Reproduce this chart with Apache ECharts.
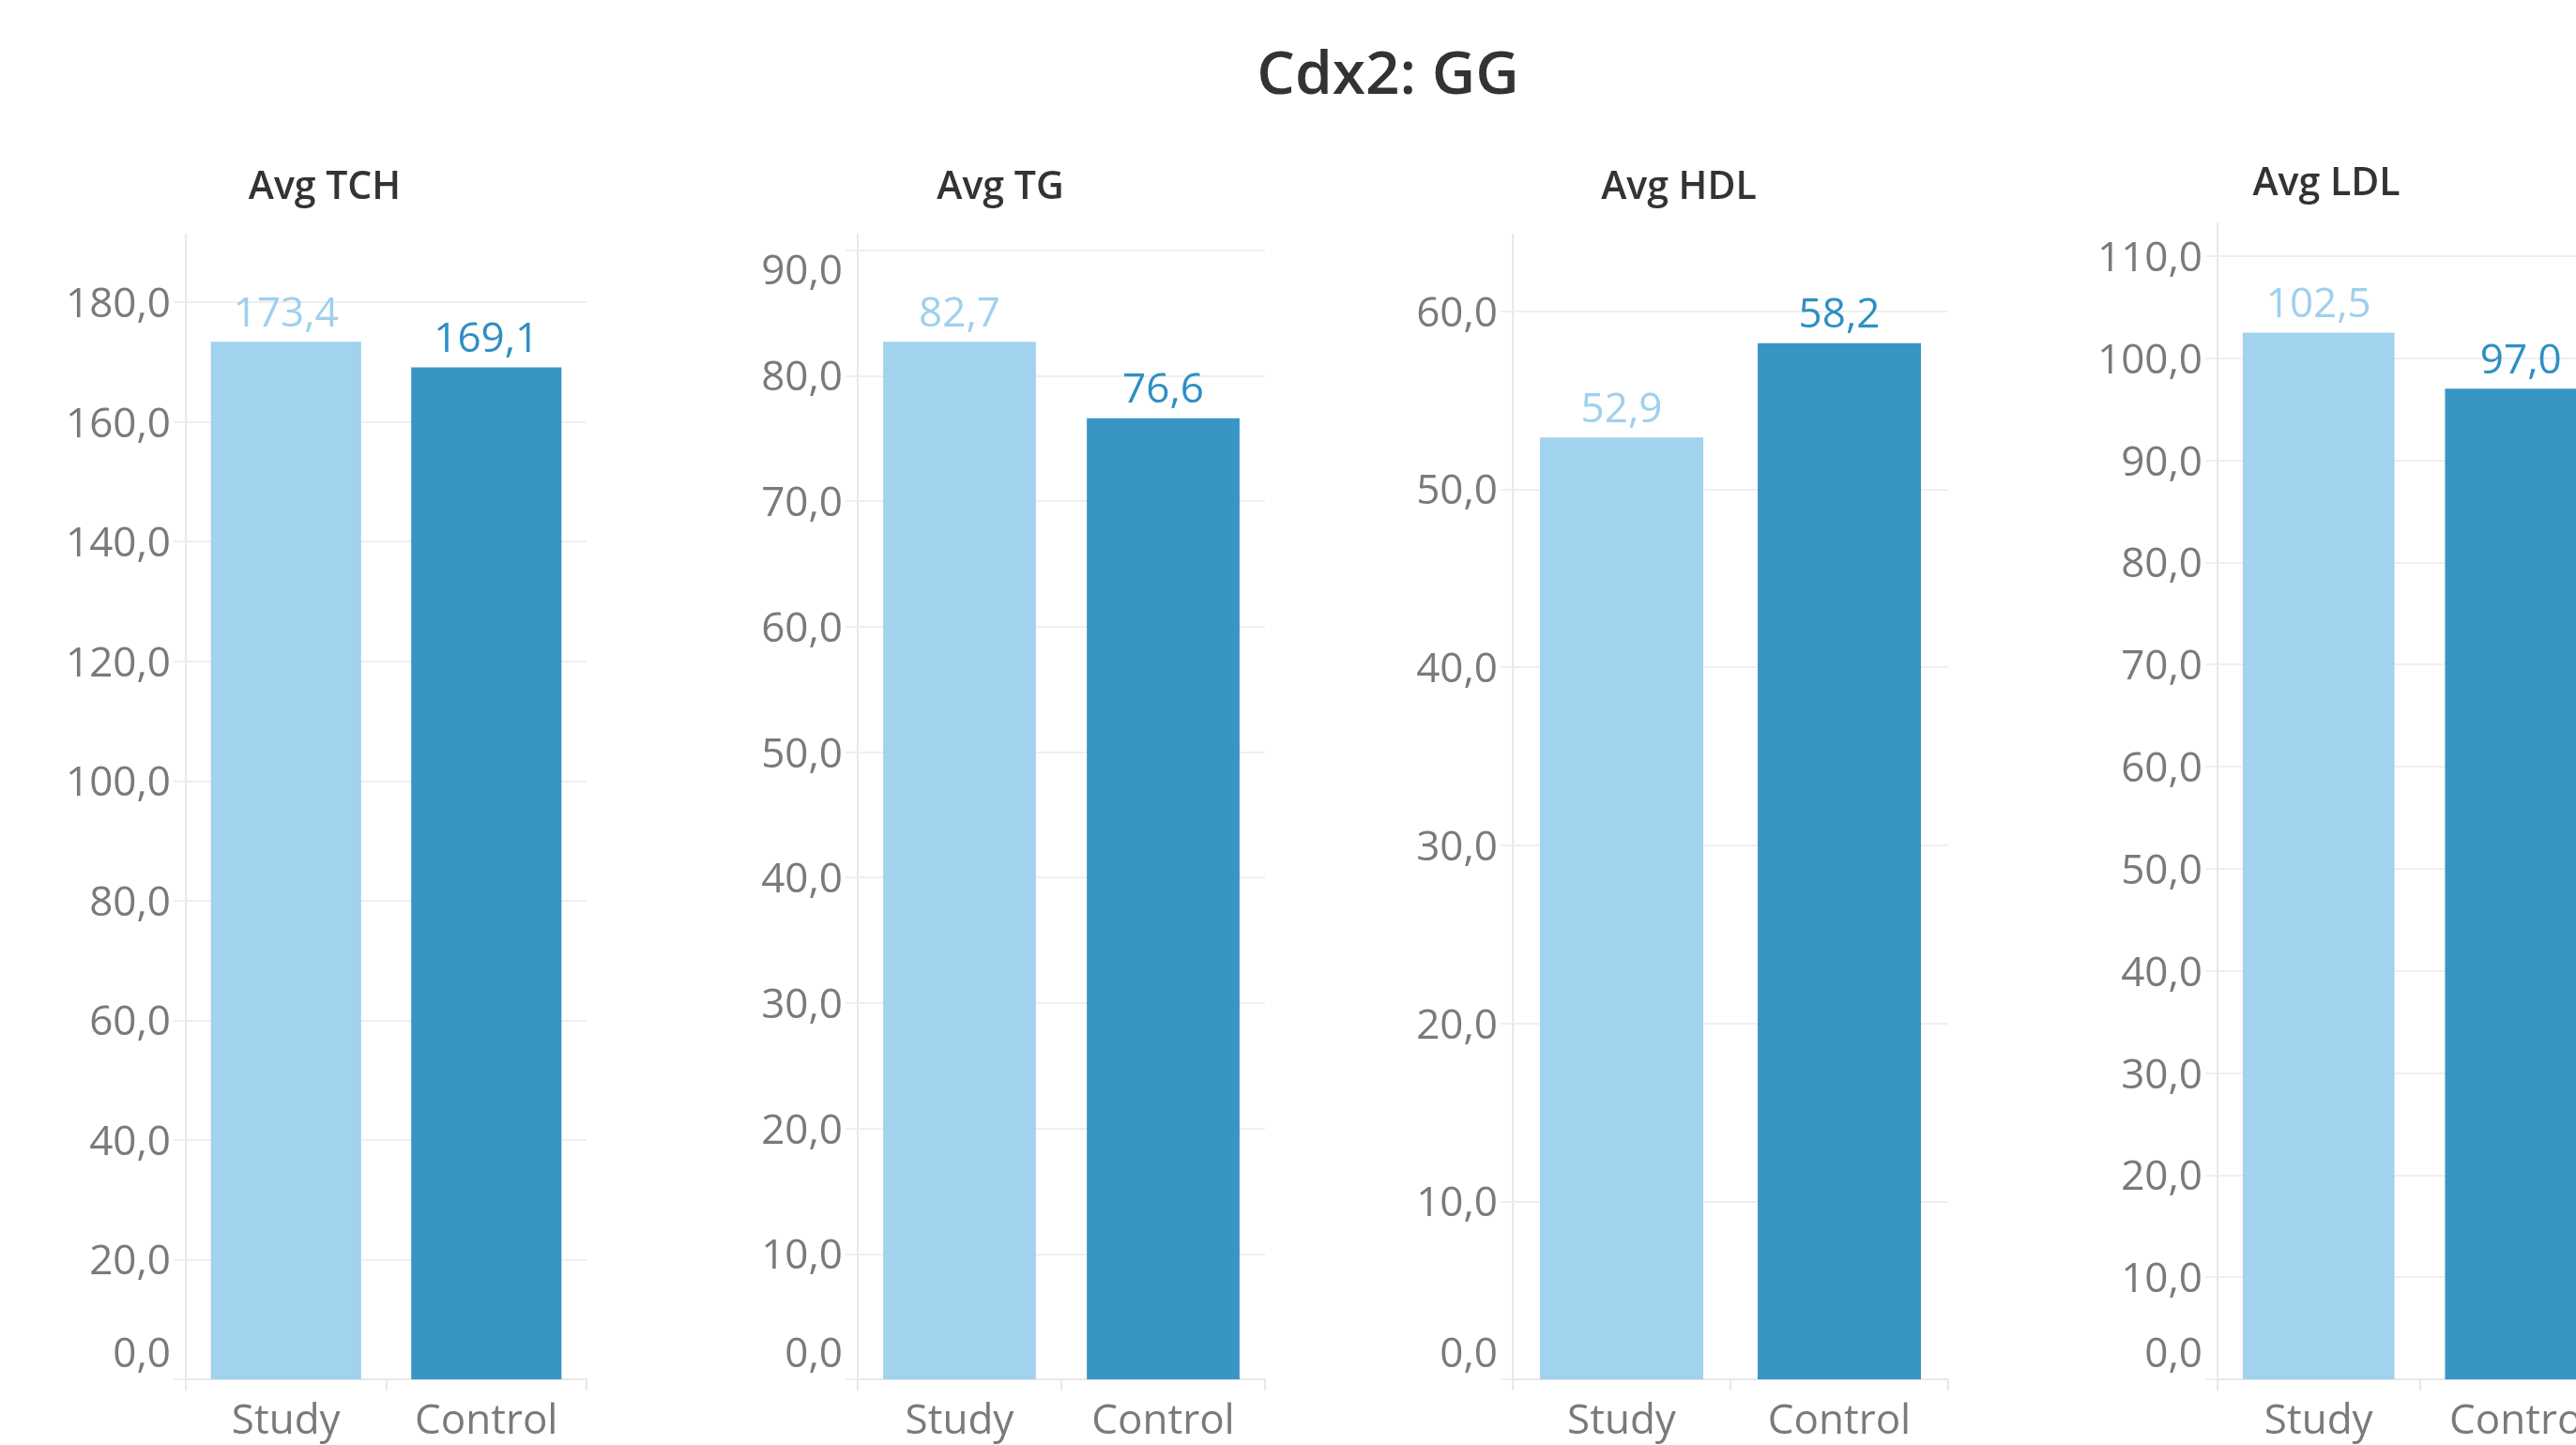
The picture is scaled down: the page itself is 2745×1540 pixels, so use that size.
<!DOCTYPE html>
<html>
<head>
<meta charset="utf-8">
<title>Cdx2: GG</title>
<script src="https://cdn.jsdelivr.net/npm/echarts@6/dist/echarts.min.js"></script>
<style>
  html, body { margin: 0; padding: 0; background: #ffffff; }
  #chart { width: 2745px; height: 1540px; }
</style>
</head>
<body>
<div id="chart"></div>
<script>
// ---- data ----
const chartTitle = 'Cdx2: GG';
const categories = ['Study', 'Control'];
const measures = ['Avg TCH', 'Avg TG', 'Avg HDL', 'Avg LDL'];
const tchValues = [173.4, 169.1];
const tgValues = [82.7, 76.6];
const hdlValues = [52.9, 58.2];
const ldlValues = [102.5, 97.0];
const axisMax = [191.3, 91.25, 64.3, 113.2];
const tickStep = [20, 10, 10, 10];

const seriesValues = [tchValues, tgValues, hdlValues, ldlValues];

// ---- look ----
const FONT = '"Open Sans", "Noto Sans", sans-serif';
const barColors = ['#a1d2ee', '#3895c4'];
const labelColors = ['#9fd0ee', '#2f8fc4'];
const gridColor = '#efefef';
const axisColor = '#e8e8e8';
const textGray = '#7a7a7a';

// panel positions (px), last one runs off the right edge like the original
const panels = [
  { left: 198, width: 427, top: 250, titleX: 346, titleY: 200 },
  { left: 914, width: 434, top: 250, titleX: 1066, titleY: 200 },
  { left: 1612, width: 464, top: 250, titleX: 1789, titleY: 200 },
  { left: 2363, width: 431, top: 238, titleX: 2479, titleY: 196 }
];
const BASELINE = 1470;

// 173.4 -> "173,4"
function fmt(v) {
  return Number(v).toFixed(1).replace('.', ',');
}

function yLabelFormatter(i) {
  const p = panels[i];
  const h = BASELINE - p.top;
  return function (v) {
    const s = fmt(v);
    if (v === 0) return '{lo|' + s + '}'; // bottom label sits a bit higher
    if ((axisMax[i] - v) / axisMax[i] * h < 22) return '{hi|' + s + '}'; // top label pushed down
    return s;
  };
}

const labelBase = { color: textGray, fontSize: 44, lineHeight: 46, fontFamily: FONT };

const grid = [], xAxis = [], yAxis = [], series = [];

panels.forEach(function (p, i) {
  grid.push({
    left: p.left,
    width: p.width,
    top: p.top,
    height: BASELINE - p.top,
    containLabel: false,
    outerBoundsMode: 'none'
  });

  xAxis.push({
    gridIndex: i,
    type: 'category',
    data: categories,
    axisLine: { show: true, lineStyle: { color: axisColor, width: 2 } },
    axisTick: { show: true, length: 12, lineStyle: { color: axisColor, width: 2 } },
    axisLabel: { margin: 19, color: textGray, fontSize: 44, lineHeight: 52, fontFamily: FONT },
    splitLine: { show: false }
  });

  yAxis.push({
    gridIndex: i,
    type: 'value',
    min: 0,
    max: axisMax[i],
    interval: tickStep[i],
    axisLine: { show: true, lineStyle: { color: axisColor, width: 2 } },
    axisTick: { show: true, length: 13, lineStyle: { color: gridColor, width: 2 } },
    splitLine: { show: true, showMaxLine: false, lineStyle: { color: gridColor, width: 2 } },
    axisLabel: {
      showMaxLabel: false,
      margin: 16,
      padding: [7, 0, 0, 0],
      color: textGray,
      fontSize: 44,
      lineHeight: 46,
      fontFamily: FONT,
      formatter: yLabelFormatter(i),
      rich: {
        lo: Object.assign({}, labelBase, { padding: [0, 0, 58, 0] }),
        hi: Object.assign({}, labelBase, { padding: [40, 0, 0, 0] })
      }
    }
  });

  series.push({
    type: 'bar',
    xAxisIndex: i,
    yAxisIndex: i,
    barWidth: '75%',
    silent: true,
    data: seriesValues[i].map(function (v, j) {
      return {
        value: v,
        itemStyle: { color: barColors[j] },
        label: { color: labelColors[j] }
      };
    }),
    label: {
      show: true,
      position: 'top',
      distance: 8,
      fontSize: 44,
      lineHeight: 42,
      fontFamily: FONT,
      formatter: function (p) { return fmt(p.value); }
    }
  });
});

const titles = [{
  text: chartTitle,
  left: 1479,
  top: 82,
  textAlign: 'center',
  textVerticalAlign: 'middle',
  padding: 0,
  textStyle: { fontSize: 64, fontWeight: 600, color: '#333333', fontFamily: FONT }
}];
measures.forEach(function (m, i) {
  titles.push({
    text: m,
    left: panels[i].titleX,
    top: panels[i].titleY,
    textAlign: 'center',
    textVerticalAlign: 'middle',
    padding: 0,
    textStyle: { fontSize: 41, fontWeight: 600, color: '#333333', fontFamily: FONT }
  });
});

const chart = echarts.init(document.getElementById('chart'));
chart.setOption({
  animation: false,
  backgroundColor: '#ffffff',
  title: titles,
  grid: grid,
  xAxis: xAxis,
  yAxis: yAxis,
  series: series
});
</script>
</body>
</html>
